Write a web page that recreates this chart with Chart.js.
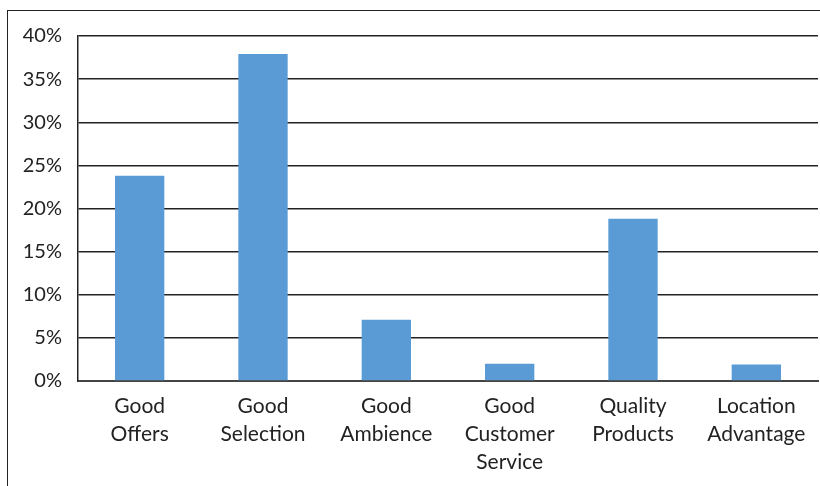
<!DOCTYPE html>
<html>
<head>
<meta charset="utf-8">
<script src="https://cdn.jsdelivr.net/npm/chart.js@4/dist/chart.umd.min.js"></script>
<style>
  html, body { margin: 0; padding: 0; background: #fff; }
  body { width: 820px; height: 486px; position: relative; overflow: hidden; }
  #frame {
    position: absolute; left: 7px; top: 10px; width: 900px; height: 600px;
    border: 1.5px solid #222; box-sizing: border-box;
  }
  #wrap { position: absolute; left: 0; top: 0; width: 820px; height: 486px; }
</style>
</head>
<body>
<div id="frame"></div>
<div id="wrap"><canvas id="reasonsChart" width="820" height="486"></canvas></div>
<script>
  const categories = [
    ["Good", "Offers"],
    ["Good", "Selection"],
    ["Good", "Ambience"],
    ["Good", "Customer", "Service"],
    ["Quality", "Products"],
    ["Location", "Advantage"],
  ];
  const shares = [23.8, 37.9, 7.1, 2.0, 18.8, 1.9];
  const yTicks = [0, 5, 10, 15, 20, 25, 30, 35, 40];

  const family = "Lato, 'Open Sans', sans-serif";

  new Chart(document.getElementById("reasonsChart"), {
    type: "bar",
    data: {
      labels: categories,
      datasets: [
        {
          data: shares,
          backgroundColor: "#5B9BD5",
          borderWidth: 0,
          barPercentage: 0.4,
          categoryPercentage: 1,
        },
      ],
    },
    options: {
      responsive: false,
      animation: false,
      layout: { padding: { top: 36, right: 2, left: 0, bottom: 0 } },
      plugins: { legend: { display: false }, tooltip: { enabled: false } },
      scales: {
        x: {
          grid: { display: false, drawTicks: false },
          border: { color: "#444", width: 2 },
          ticks: {
            color: "#222",
            font: { family, size: 21, lineHeight: 1.33 },
            padding: 11,
            maxRotation: 0,
            autoSkip: false,
          },
          afterFit: (axis) => { axis.height = 105; },
        },
        y: {
          min: 0,
          max: 40,
          afterBuildTicks: (axis) => { axis.ticks = yTicks.map((v) => ({ value: v })); },
          grid: { color: "#222", lineWidth: 1.5, drawTicks: false },
          border: { color: "#222", width: 1.5 },
          ticks: { color: "#222", font: { family, size: 20 }, padding: 16, callback: (v) => v + "%" },
          afterFit: (axis) => { axis.width = 78; },
        },
      },
    },
  });
</script>
</body>
</html>
